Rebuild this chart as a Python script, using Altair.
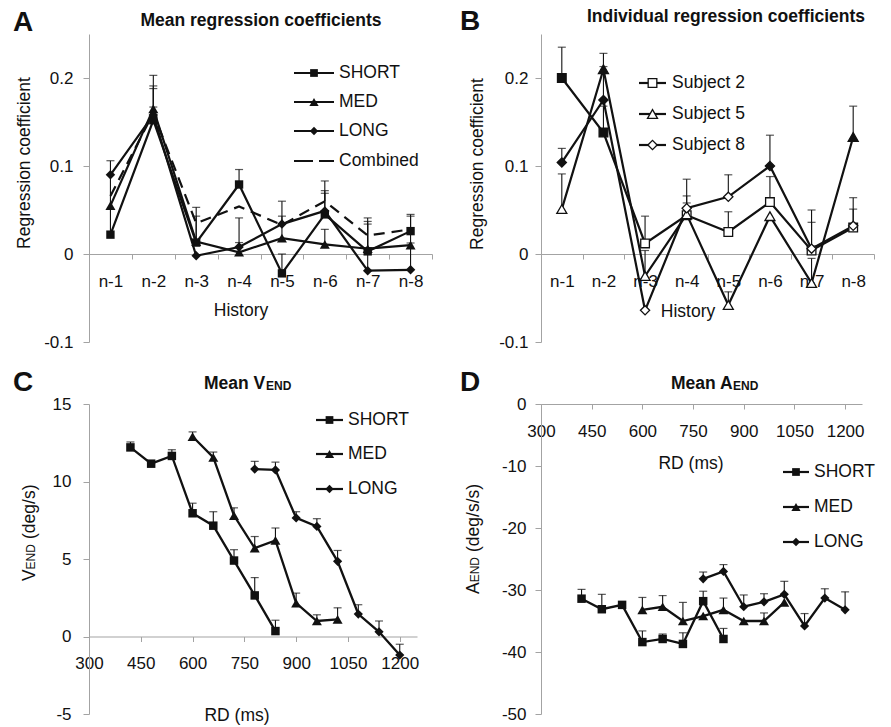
import altair as alt
import pandas as pd

FONT = "Liberation Sans"
INK = "#111111"
AXC = "#a3a3a3"

# ---------------- Panel A : mean regression coefficients ----------------
history = ["n-1", "n-2", "n-3", "n-4", "n-5", "n-6", "n-7", "n-8"]
a_names = ["SHORT", "MED", "LONG", "Combined"]
a_short = [0.022, 0.152, 0.013, 0.079, -0.022, 0.045, 0.003, 0.026]
a_short_top = [0.106, 0.191, 0.053, 0.096, 0.000, 0.072, 0.041, 0.045]
a_med = [0.055, 0.165, 0.014, 0.002, 0.018, 0.011, 0.006, 0.010]
a_med_top = [0.055, 0.167, 0.043, 0.013, 0.043, 0.028, 0.034, 0.0125]
a_long = [0.090, 0.158, -0.002, 0.008, 0.034, 0.049, -0.019, -0.018]
a_long_top = [0.090, 0.203, -0.002, 0.041, 0.060, 0.083, 0.037, 0.043]
a_comb = [0.066, 0.160, 0.035, 0.054, 0.033, 0.060, 0.021, 0.028]
a_comb_top = [0.066, 0.188, 0.035, 0.054, 0.033, 0.069, 0.021, 0.028]

# ---------------- Panel B : individual regression coefficients ----------------
b_names = ["Subject 2", "Subject 5", "Subject 8"]
b_s2 = [0.200, 0.138, 0.012, 0.044, 0.025, 0.059, 0.004, 0.030]
b_s2_top = [0.235, 0.168, 0.043, 0.058, 0.048, 0.088, 0.036, 0.051]
b_s2_sig = [1, 1, 0, 0, 0, 0, 0, 0]
b_s5 = [0.051, 0.210, -0.025, 0.045, -0.058, 0.043, -0.033, 0.133]
b_s5_top = [0.091, 0.228, 0.004, 0.066, -0.043, 0.043, -0.005, 0.168]
b_s5_sig = [0, 1, 0, 0, 0, 0, 0, 1]
b_s8 = [0.104, 0.175, -0.064, 0.052, 0.065, 0.100, 0.006, 0.032]
b_s8_top = [0.120, 0.213, -0.064, 0.085, 0.090, 0.135, 0.050, 0.064]
b_s8_sig = [1, 1, 0, 0, 0, 1, 0, 0]

# ---------------- Panels C / D : RD (ms) ----------------
c_names = ["SHORT", "MED", "LONG"]
rd_short = [420, 480, 540, 600, 660, 720, 780, 840]
rd_med = [600, 660, 720, 780, 840, 900, 960, 1020]
rd_long = [780, 840, 900, 960, 1020, 1080, 1140, 1200]
rd_ticks = [300, 450, 600, 750, 900, 1050, 1200]

c_short = [12.2, 11.15, 11.65, 7.95, 7.15, 4.9, 2.65, 0.35]
c_short_top = [12.55, 11.15, 12.05, 8.6, 8.05, 5.6, 3.8, 1.05]
c_med = [12.9, 11.55, 7.8, 5.7, 6.2, 2.15, 1.0, 1.1]
c_med_top = [13.2, 11.9, 8.3, 6.45, 7.0, 2.8, 1.4, 1.85]
c_long = [10.8, 10.75, 7.65, 7.1, 4.85, 1.45, 0.3, -1.2]
c_long_top = [11.3, 11.25, 8.05, 7.6, 5.55, 2.05, 1.0, -0.5]

d_short = [-31.4, -33.1, -32.4, -38.4, -37.9, -38.7, -31.8, -37.9]
d_short_top = [-29.9, -30.7, -32.4, -36.6, -37.1, -36.9, -30.2, -36.2]
d_med = [-33.2, -32.7, -35.0, -34.2, -33.2, -35.0, -35.0, -32.0]
d_med_top = [-31.2, -30.9, -32.0, -34.2, -31.3, -35.0, -33.7, -32.0]
d_long = [-28.2, -27.0, -32.7, -31.9, -30.7, -35.8, -31.3, -33.2]
d_long_top = [-27.1, -25.9, -30.8, -30.6, -28.6, -33.8, -29.8, -30.3]


def frame(names, xs_list, vals_list, tops_list, xkey, sig_list=None):
    rows = []
    for i, name in enumerate(names):
        for j, (x, v, t) in enumerate(zip(xs_list[i], vals_list[i], tops_list[i])):
            r = {"s": name, xkey: x, "v": v, "t": t}
            if sig_list is not None:
                r["sig"] = sig_list[i][j]
            rows.append(r)
    return pd.DataFrame(rows)


def txt(text, x, y, size=17.5, weight="normal", align="center", baseline="alphabetic", angle=0):
    return alt.Chart(alt.Data(values=[{"t": text}])).mark_text(
        align=align, baseline=baseline, fontSize=size, fontWeight=weight,
        font=FONT, color=INK, angle=angle
    ).encode(text="t:N", x=alt.value(x), y=alt.value(y))


def key_layers(names, shapes, sizes, x1, x2, xl, ys, fill, sw):
    """Hand-drawn legend (guide only): line sample, marker sample and label per entry."""
    layers = []
    for name, shp, sz, y in zip(names, shapes, sizes, ys):
        d = alt.Data(values=[{"t": name}])
        if shp is None:
            layers.append(alt.Chart(d).mark_rule(color=INK, strokeWidth=2.2, strokeDash=[19, 6])
                          .encode(x=alt.value(x1), x2=alt.value(x2), y=alt.value(y)))
        else:
            layers.append(alt.Chart(d).mark_rule(color=INK, strokeWidth=2.2)
                          .encode(x=alt.value(x1), x2=alt.value(x2), y=alt.value(y)))
            layers.append(alt.Chart(d).mark_point(shape=shp, size=sz, filled=True, fill=fill,
                                                  stroke=INK, strokeWidth=sw, opacity=1)
                          .encode(x=alt.value((x1 + x2) / 2), y=alt.value(y)))
        layers.append(txt(name, xl, y, baseline="middle", align="left"))
    return layers


def ylabel_expr():
    return "'' + datum.value"


# ============ Panel A ============
W1, H1 = 343, 308
a_df = frame(a_names, [history] * 4, [a_short, a_med, a_long, a_comb],
             [a_short_top, a_med_top, a_long_top, a_comb_top], "h")

def band_x(offset):
    return alt.X("h:N", scale=alt.Scale(type="band", domain=history, paddingInner=0, paddingOuter=0),
                 axis=alt.Axis(title=None, tickBand="extent", offset=offset, labelPadding=14,
                               tickSize=5, labelAngle=0))

def reg_y(field, pad):
    return alt.Y(field, scale=alt.Scale(domain=[-0.1, 0.25], nice=False, zero=False),
                 axis=alt.Axis(title=None, values=[-0.1, 0, 0.1, 0.2], labelExpr=ylabel_expr(),
                               tickSize=6, labelPadding=pad))

xa = band_x(-88)
ya = reg_y("v:Q", 10)
ya_t = reg_y("t:Q", 10)
ba = alt.Chart(a_df)
a_layers = [
    ba.transform_filter("datum.s != 'Combined'").mark_line(color=INK, strokeWidth=2.2)
      .encode(x=xa, y=ya, detail="s:N"),
    ba.transform_filter("datum.s == 'Combined'").mark_line(color=INK, strokeWidth=2.2, strokeDash=[11, 7])
      .encode(x=xa, y=ya),
    ba.transform_filter("datum.t > datum.v").mark_rule(color=INK, strokeWidth=1.1)
      .encode(x=xa, y=ya, y2="t:Q"),
    ba.transform_filter("datum.t > datum.v").mark_tick(color=INK, orient="horizontal", size=8, thickness=1.2)
      .encode(x=xa, y=ya_t),
]
for name, shp, sz in [("SHORT", "square", 70), ("MED", "triangle-up", 100), ("LONG", "diamond", 90)]:
    a_layers.append(ba.transform_filter(f"datum.s == '{name}'")
                    .mark_point(shape=shp, filled=True, color=INK, size=sz, opacity=1)
                    .encode(x=xa, y=ya))
a_layers += key_layers(a_names, ["square", "triangle-up", "diamond", None], [60, 85, 70, 0],
                       205, 245, 250, [39, 68, 97, 127], INK, 0)
a_layers += [
    txt("A", -66, -11, size=28, weight="bold", baseline="middle"),
    txt("Mean regression coefficients", 172, -8, weight="bold"),
    txt("Regression coefficient", -64, 129, baseline="middle", angle=270),
    txt("History", 152, 282),
]
panel_a = alt.layer(*a_layers).properties(width=W1, height=H1)

# ============ Panel B ============
W2 = 333
b_df = frame(b_names, [history] * 3, [b_s2, b_s5, b_s8], [b_s2_top, b_s5_top, b_s8_top], "h",
             [b_s2_sig, b_s5_sig, b_s8_sig])
xb = band_x(-88)
yb = reg_y("v:Q", 7)
yb_t = reg_y("t:Q", 7)
bb = alt.Chart(b_df)
fill_sig = alt.condition("datum.sig == 1", alt.value(INK), alt.value("white"))
b_layers = [
    bb.mark_line(color=INK, strokeWidth=2.2).encode(x=xb, y=yb, detail="s:N"),
    bb.transform_filter("datum.t > datum.v").mark_rule(color=INK, strokeWidth=1.1)
      .encode(x=xb, y=yb, y2="t:Q"),
    bb.transform_filter("datum.t > datum.v").mark_tick(color=INK, orient="horizontal", size=8, thickness=1.2)
      .encode(x=xb, y=yb_t),
]
for name, shp, sz in [("Subject 2", "square", 75), ("Subject 5", "triangle-up", 100), ("Subject 8", "diamond", 85)]:
    b_layers.append(bb.transform_filter(f"datum.s == '{name}'")
                    .mark_point(shape=shp, filled=True, stroke=INK, strokeWidth=1.3, size=sz, opacity=1)
                    .encode(x=xb, y=yb, fill=fill_sig))
b_layers += key_layers(b_names, ["square", "triangle-up", "diamond"], [75, 100, 85],
                       98, 125, 131, [49, 80, 111], "white", 1.3)
b_layers += [
    txt("B", -71, -12, size=28, weight="bold", baseline="middle"),
    txt("Individual regression coefficients", 185, -12, weight="bold"),
    txt("Regression coefficient", -63, 130, baseline="middle", angle=270),
    txt("History", 147, 283),
]
panel_b = alt.layer(*b_layers).properties(width=W2, height=H1)

# ============ Panel C ============
W3, H2 = 328, 310
c_df = frame(c_names, [rd_short, rd_med, rd_long], [c_short, c_med, c_long],
             [c_short_top, c_med_top, c_long_top], "rd")

def rd_x(offset):
    return alt.X("rd:Q", scale=alt.Scale(domain=[300, 1250], nice=False, zero=False),
                 axis=alt.Axis(title=None, values=rd_ticks, offset=offset, labelPadding=14, tickSize=5,
                               labelFlush=False, labelOverlap=False, labelExpr="'' + datum.value"))

def lin_y(field, dom, vals, pad):
    return alt.Y(field, scale=alt.Scale(domain=dom, nice=False, zero=False),
                 axis=alt.Axis(title=None, values=vals, labelExpr=ylabel_expr(), tickSize=6,
                               labelPadding=pad))

def rd_panel(df, xenc, yv, yt):
    b = alt.Chart(df)
    layers = [
        b.mark_line(color=INK, strokeWidth=2.3).encode(x=xenc, y=yv, detail="s:N"),
        b.transform_filter("datum.t > datum.v").mark_rule(color=INK, strokeWidth=1.1)
         .encode(x=xenc, y=yv, y2="t:Q"),
        b.transform_filter("datum.t > datum.v").mark_tick(color=INK, orient="horizontal", size=8, thickness=1.2)
         .encode(x=xenc, y=yt),
    ]
    for name, shp, sz in [("SHORT", "square", 72), ("MED", "triangle-up", 100), ("LONG", "diamond", 85)]:
        layers.append(b.transform_filter(f"datum.s == '{name}'")
                      .mark_point(shape=shp, filled=True, color=INK, size=sz, opacity=1)
                      .encode(x=xenc, y=yv))
    return layers

xc = rd_x(-77.5)
c_layers = rd_panel(c_df, xc,
                    lin_y("v:Q", [-5, 15], [-5, 0, 5, 10, 15], 12),
                    lin_y("t:Q", [-5, 15], [-5, 0, 5, 10, 15], 12))
c_layers += key_layers(c_names, ["square", "triangle-up", "diamond"], [60, 85, 70],
                       227, 254, 259, [16, 50, 85], INK, 0)
c_layers += [
    txt("C", -66, -21, size=28, weight="bold", baseline="middle"),
    txt("Mean V", 115, -15, weight="bold", align="left"),
    txt("END", 177, -14, size=12, weight="bold", align="left"),
    txt("V", -54, 177, align="left", angle=270),
    txt("END", -54, 165.5, size=12, align="left", angle=270),
    txt("(deg/s)", -54, 135, align="left", angle=270),
    txt("RD (ms)", 148, 317),
]
panel_c = alt.layer(*c_layers).properties(width=W3, height=H2)

# ============ Panel D ============
W4 = 321
d_df = frame(c_names, [rd_short, rd_med, rd_long], [d_short, d_med, d_long],
             [d_short_top, d_med_top, d_long_top], "rd")
xd = rd_x(-310)
d_layers = rd_panel(d_df, xd,
                    lin_y("v:Q", [-50, 0], [-50, -40, -30, -20, -10, 0], 9),
                    lin_y("t:Q", [-50, 0], [-50, -40, -30, -20, -10, 0], 9))
d_layers += key_layers(c_names, ["square", "triangle-up", "diamond"], [60, 85, 70],
                       242, 268, 273, [68, 103, 138], INK, 0)
d_layers += [
    txt("D", -71, -21, size=28, weight="bold", baseline="middle"),
    txt("Mean A", 130, -15, weight="bold", align="left"),
    txt("END", 192, -14, size=12, weight="bold", align="left"),
    txt("A", -62, 190, align="left", angle=270),
    txt("END", -62, 178.3, size=12, align="left", angle=270),
    txt("(deg/s/s)", -62, 148, align="left", angle=270),
    txt("RD (ms)", 150, 65),
]
panel_d = alt.layer(*d_layers).properties(width=W4, height=H2)

chart = (
    alt.concat(panel_a, panel_b, panel_c, panel_d, columns=2,
               spacing={"row": 62, "column": 109}, bounds="flush", align="each")
    .properties(padding={"left": 12, "top": 8, "right": 4, "bottom": 4}, background="white")
    .configure(font=FONT)
    .configure_view(strokeWidth=0)
    .configure_axis(domainColor=AXC, tickColor=AXC, domainWidth=1, tickWidth=1, grid=False,
                    labelFont=FONT, labelFontSize=17, labelColor=INK)
)

chart.save("out.html", embed_options={"renderer": "svg", "actions": False})
